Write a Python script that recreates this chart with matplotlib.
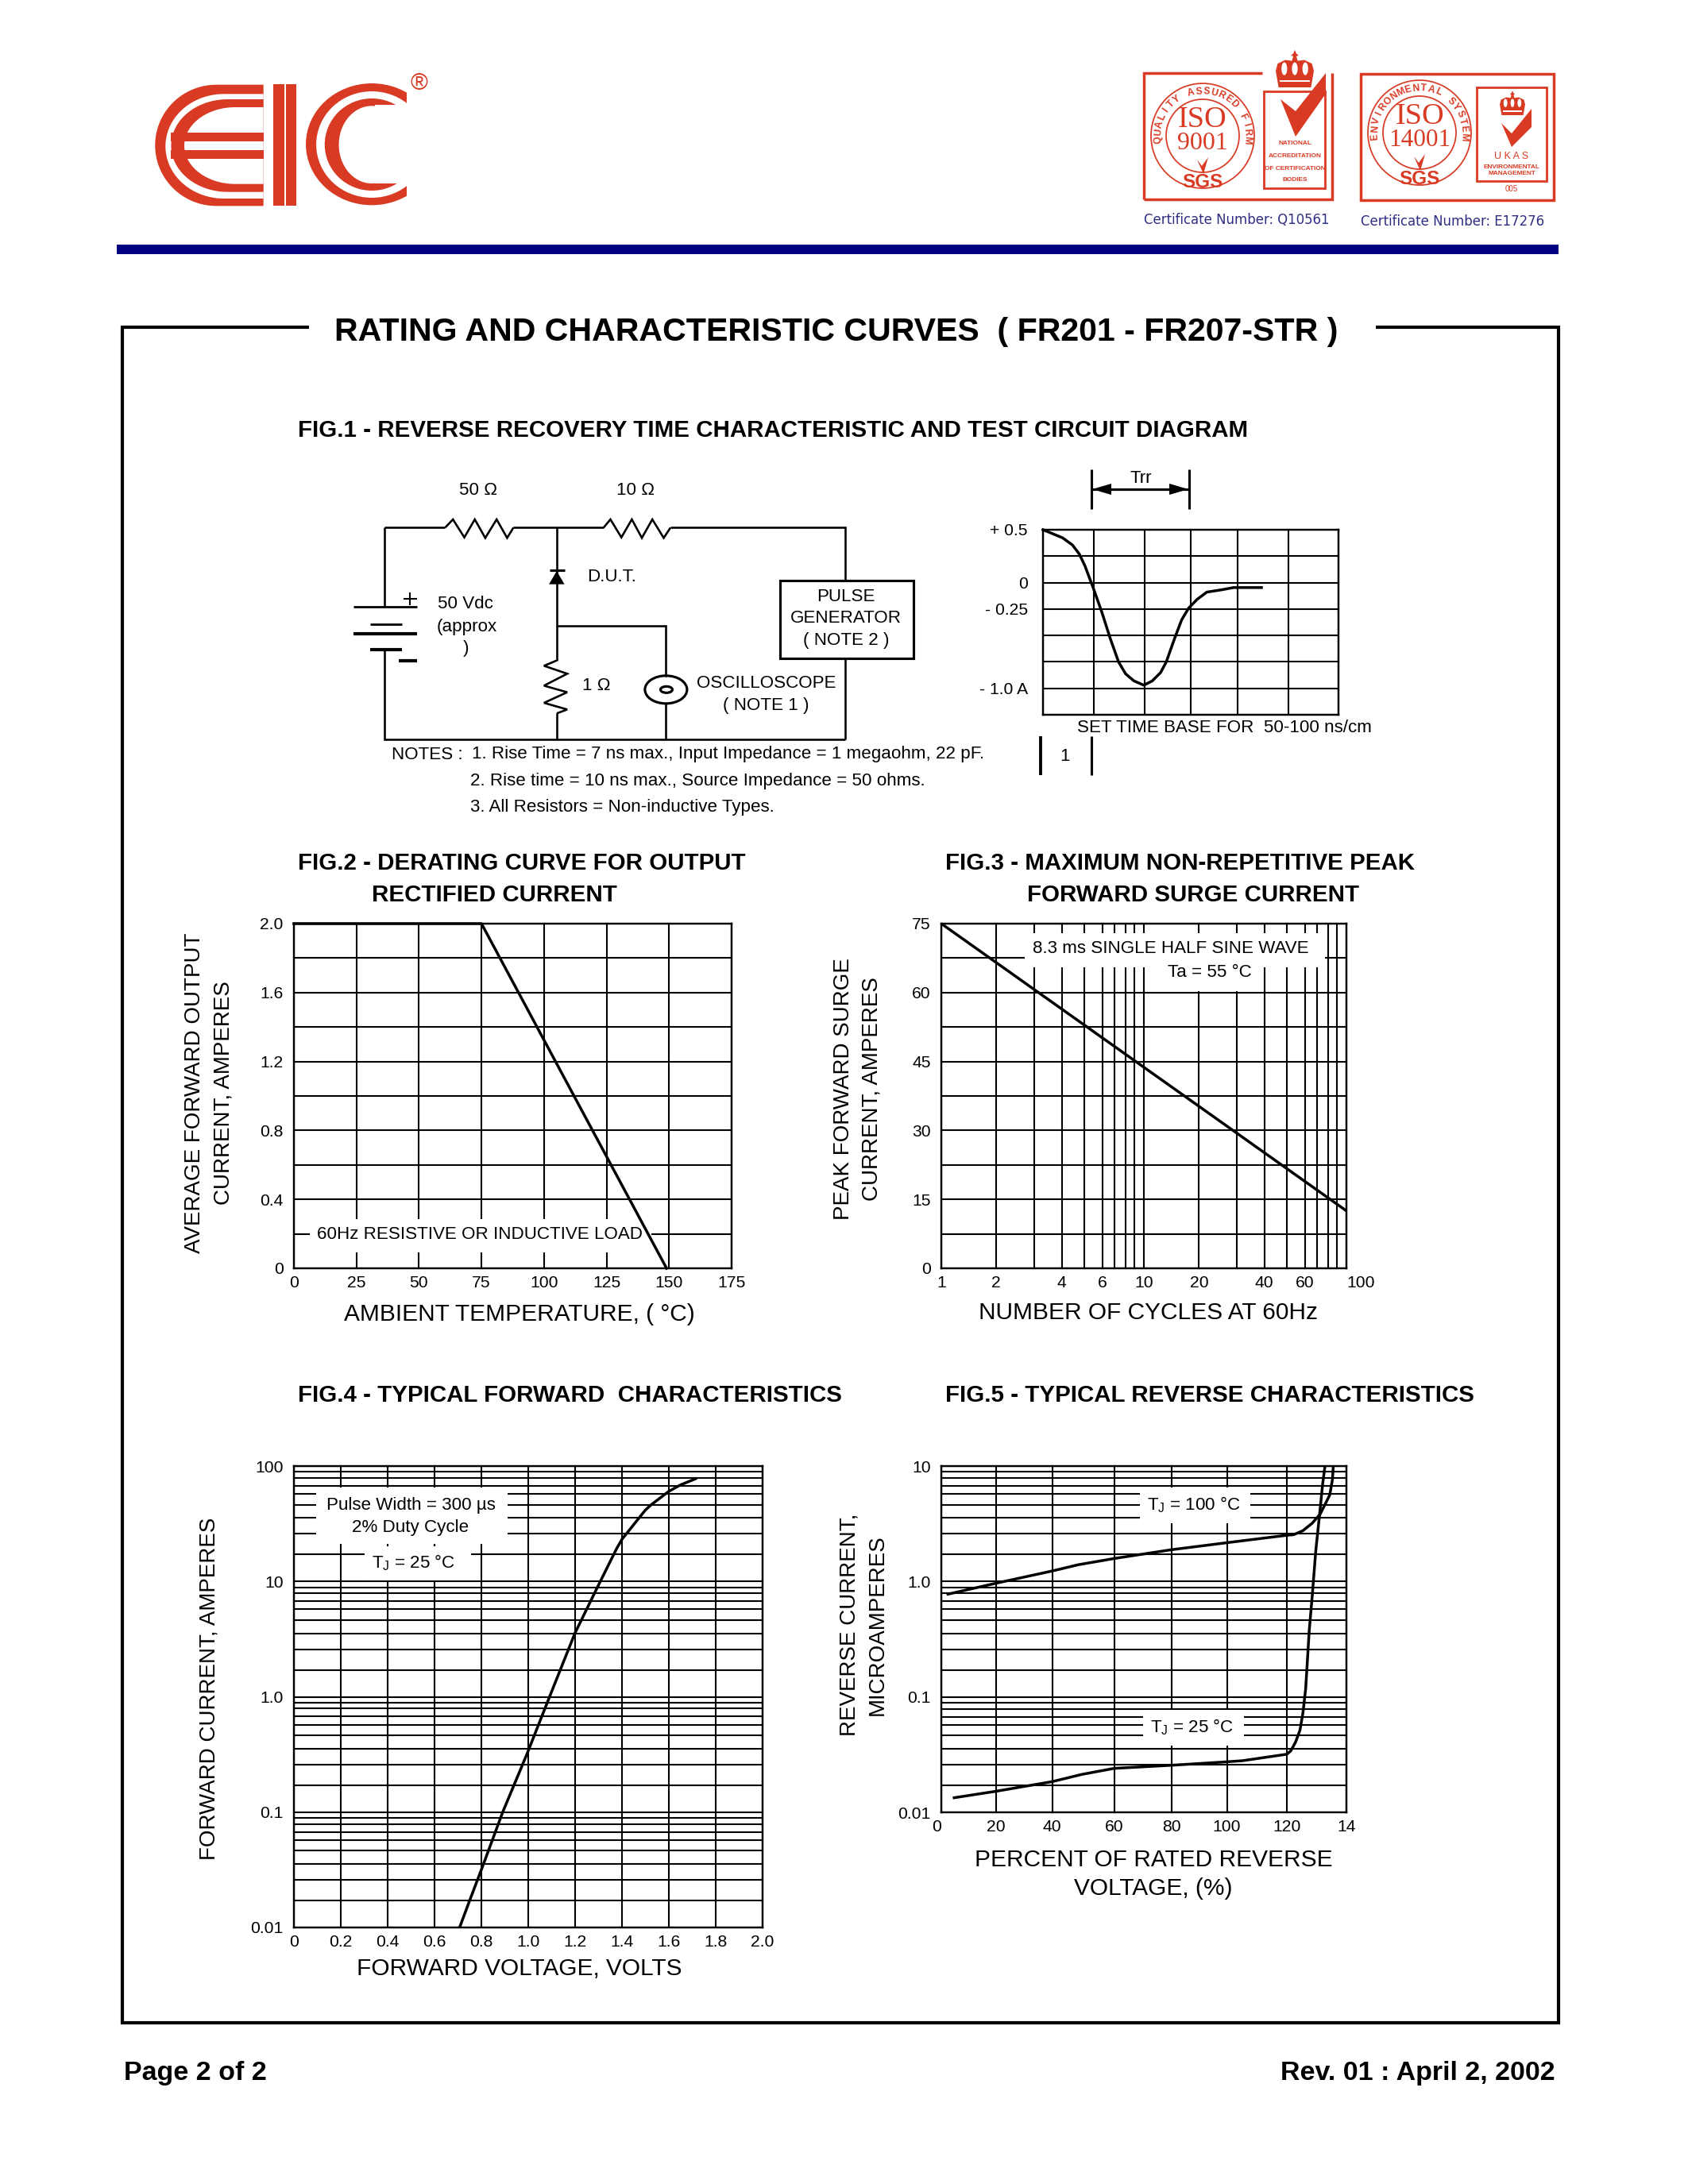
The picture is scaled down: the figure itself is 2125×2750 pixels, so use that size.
import matplotlib

matplotlib.use("Agg")
import matplotlib.pyplot as plt
import numpy as np
from matplotlib.lines import Line2D
from matplotlib.patches import Ellipse, Polygon, Rectangle
from matplotlib.transforms import Affine2D

W, H = 2125, 2750
RED = "#d93a24"
NAVY = "#000080"
CERT_BLUE = "#2e2e82"
FONT = "Liberation Sans"

plt.rcParams["font.family"] = [FONT, "DejaVu Sans"]
plt.rcParams["axes.linewidth"] = 0.7
plt.rcParams["mathtext.fontset"] = "custom"
plt.rcParams["mathtext.rm"] = FONT

# the log papers in the datasheet are hand drafted, their decades are not true log
LOG_MANTISSA = [1, 2, 3, 4, 5, 6, 7, 8, 9, 10]
LOG_FRAC_Y = [0, 0.234, 0.413, 0.55, 0.665, 0.759, 0.828, 0.897, 0.95, 1]
LOG_FRAC_X = [0, 0.272, 0.458, 0.595, 0.705, 0.796, 0.854, 0.908, 0.953, 1]

# fig 1 waveform
WAVE_DIVS = [0, 1, 2, 3, 4, 5, 6]
WAVE_DIV_FRAC = [0, 0.1725, 0.3431, 0.5005, 0.6588, 0.8294, 1]
WAVE_T = [0, 0.385, 0.577, 0.714, 0.824, 0.989, 1.156, 1.322, 1.489, 1.628, 1.794, 1.989,
          2.169, 2.349, 2.47, 2.651, 2.801, 2.952, 3.132, 3.341, 3.671, 3.91, 4.472]
WAVE_A = [0.5, 0.423, 0.356, 0.269, 0.157, -0.055, -0.279, -0.527, -0.751, -0.863, -0.93, -0.97,
          -0.93, -0.851, -0.751, -0.527, -0.353, -0.241, -0.159, -0.09, -0.067, -0.047, -0.047]
WAVE_Y_GRID = [0.5, 0.25, 0, -0.25, -0.5, -0.75, -1.0, -1.25]
WAVE_Y_TICKS = [0.5, 0, -0.25, -1.0]
WAVE_Y_LABELS = ["+ 0.5", "0", "- 0.25", "- 1.0 A"]

# fig 2 derating
DERATE_T = [0, 75, 149]
DERATE_I = [2.0, 2.0, 0]
DERATE_X_TICKS = [0, 25, 50, 75, 100, 125, 150, 175]
DERATE_Y_MAJOR = [0, 0.4, 0.8, 1.2, 1.6, 2.0]
DERATE_Y_LABELS = ["0", "0.4", "0.8", "1.2", "1.6", "2.0"]
DERATE_Y_MINOR = [0.2, 0.6, 1.0, 1.4, 1.8]

# fig 3 surge
SURGE_N = [1, 100]
SURGE_I = [75, 12.5]
SURGE_X_MAJOR = [1, 2, 4, 6, 10, 20, 40, 60, 100]
SURGE_X_LABELS = ["1", "2", "4", "6", "10", "20", "40", "60", "100"]
SURGE_X_MINOR = [3, 5, 7, 8, 9, 30, 50, 70, 80, 90]
SURGE_Y_MAJOR = [0, 15, 30, 45, 60, 75]
SURGE_Y_MINOR = [7.5, 22.5, 37.5, 52.5, 67.5]

# fig 4 forward
FWD_V = [0.707, 0.752, 0.804, 0.891, 0.995, 1.089, 1.199, 1.294, 1.377, 1.401, 1.5, 1.525, 1.599, 1.648, 1.714]
FWD_I = [0.01, 0.0206, 0.038, 0.1, 0.368, 0.98, 4.0, 8.9, 22.8, 27.5, 46, 50, 63, 71, 79]
FWD_X_TICKS = [0, 0.2, 0.4, 0.6, 0.8, 1.0, 1.2, 1.4, 1.6, 1.8, 2.0]
FWD_X_LABELS = ["0", "0.2", "0.4", "0.6", "0.8", "1.0", "1.2", "1.4", "1.6", "1.8", "2.0"]
FWD_Y_TICKS = [0.01, 0.1, 1, 10, 100]
FWD_Y_LABELS = ["0.01", "0.1", "1.0", "10", "100"]

# fig 5 reverse
REV_X_TICKS = [0, 20, 40, 60, 80, 100, 120, 140]
REV_X_FRAC = [0, 0.1352, 0.2741, 0.4265, 0.568, 0.705, 0.853, 1]
REV_X_LABELS = ["0", "20", "40", "60", "80", "100", "120", "14"]
REV_Y_TICKS = [0.01, 0.1, 1, 10]
REV_Y_LABELS = ["0.01", "0.1", "1.0", "10"]
REV_100_X = [2.4, 20, 40, 48.4, 60, 80, 100, 120, 122.3, 125.4, 128.5, 131.2, 134.4, 135.3, 135.6]
REV_100_I = [0.79, 0.97, 1.39, 1.62, 1.85, 2.23, 2.57, 2.93, 2.96, 3.2, 3.67, 4.3, 5.9, 7.8, 10]
REV_25_X = [4.7, 20, 32.3, 40, 49.6, 60, 80, 100, 105.2, 120, 121.3, 122.9, 124.4, 125.4,
            126.3, 126.8, 127.5, 128.5, 129.7, 131, 132, 132.8]
REV_25_I = [0.0154, 0.0178, 0.02, 0.0218, 0.0253, 0.0282, 0.0297, 0.0318, 0.0325, 0.0366, 0.0387, 0.045,
            0.055, 0.075, 0.129, 0.223, 0.42, 0.76, 2.17, 4.3, 7.2, 10]

# schematic, in crop units of the circuit area
WIRES = [
    ([147, 147], [583, 283]), ([147, 280], [283, 283]), ([430, 628], [283, 283]),
    ([775, 1158, 1158], [283, 283, 482]), ([525, 525], [283, 785]), ([525, 525], [985, 1083]),
    ([525, 765, 765], [653, 653, 845]), ([765, 765], [948, 1083]), ([1158, 1158], [778, 1083]),
    ([147, 147, 1158], [745, 1083, 1083]),
]
RESISTORS = [
    ([280, 297, 322, 345, 368, 393, 416, 430], [283, 252, 320, 252, 322, 252, 322, 283]),
    ([628, 643, 667, 690, 712, 735, 760, 775], [283, 252, 320, 252, 322, 252, 322, 283]),
    ([525, 497, 548, 497, 548, 497, 548, 525], [785, 805, 835, 880, 905, 945, 970, 985]),
]
BATTERY = [(78, 218, 583, 0.8), (116, 185, 647, 0.8), (78, 218, 683, 1.2), (116, 185, 745, 1.2), (178, 218, 785, 1.2)]

TEXT_SIZE = 6.45
TICK_SIZE = 6.1
X_TITLE_SIZE = 8.6
Y_TITLE_SIZE = 8.0
FIG_TITLE_SIZE = 8.5


def log_positions(decades, fracs, lo=0):
    vals, pos = [], []
    for d in range(decades):
        for m, f in zip(LOG_MANTISSA[:-1], fracs[:-1]):
            vals.append(m * 10.0 ** (lo + d))
            pos.append((d + f) / decades)
    vals.append(10.0 ** (lo + decades))
    pos.append(1.0)
    return vals, pos


def warped(values, fracs):
    return (lambda v: np.interp(v, values, fracs), lambda f: np.interp(f, fracs, values))


fig = plt.figure(figsize=(8.5, 11), dpi=250, facecolor="white")
PX = Affine2D().scale(1, -1).translate(0, H)


def page_text(x, y, s, size=TEXT_SIZE, ha="center", va="center", **kw):
    return fig.text(x, y, s, transform=PX, fontsize=size, ha=ha, va=va, **kw)


def page_line(xs, ys, lw=0.7, color="black"):
    fig.add_artist(Line2D(xs, ys, transform=PX, color=color, lw=lw, solid_capstyle="butt", solid_joinstyle="miter"))


def page_poly(pts, color=RED, zorder=1):
    fig.add_artist(Polygon(pts, closed=True, transform=PX, facecolor=color, edgecolor="none", zorder=zorder))


def page_rect(x0, y0, x1, y1, fill=None, edge=None, lw=0.7):
    fig.add_artist(Rectangle((x0, y0), x1 - x0, y1 - y0, transform=PX, facecolor=fill or "none",
                             edgecolor=edge or "none", lw=lw))


def page_ellipse(cx, cy, w, h, fill=None, edge=None, lw=0.7):
    fig.add_artist(Ellipse((cx, cy), w, h, transform=PX, facecolor=fill or "none", edgecolor=edge or "none", lw=lw))


def chart(left, top, right, bottom):
    ax = fig.add_axes([left / W, 1 - bottom / H, (right - left) / W, (bottom - top) / H])
    ax.set_axisbelow(True)
    ax.grid(True, which="both", color="black", lw=0.6)
    ax.tick_params(which="both", length=0, labelsize=TICK_SIZE)
    ax.tick_params(axis="x", pad=2.6)
    ax.tick_params(axis="y", pad=3.8)
    return ax


def mask(ax, x0, y0, x1, y1):
    ax.add_patch(Rectangle((x0, y0), x1 - x0, y1 - y0, transform=PX, facecolor="white", edgecolor="none", zorder=1.5))


def y_title(ax, text, x, y, size=Y_TITLE_SIZE):
    ax.set_ylabel(text, fontsize=size, va="center", ha="center", linespacing=1.5)
    ax.yaxis.set_label_coords(x, y, transform=PX)


def x_title(ax, text, x, y, size=X_TITLE_SIZE):
    ax.set_xlabel(text, fontsize=size, va="center", ha="center", linespacing=1.35)
    ax.xaxis.set_label_coords(x, y, transform=PX)


def draw_logo():
    def stadium(left, top, bottom, cx, right, color):
        a, b, cy = cx - left, (bottom - top) / 2, (top + bottom) / 2
        t = np.linspace(np.pi / 2, 3 * np.pi / 2, 60)
        pts = [(right, top)] + list(zip(cx + a * np.cos(t), cy - b * np.sin(t))) + [(right, bottom)]
        page_poly(pts, color)

    zx = lambda v: v / 0.843 + 130
    zy = lambda v: v / 3 + 50
    for left, top, bottom, cx, color in [(55, 170, 628, 120, RED), (66, 205, 600, 128, "white"),
                                         (72, 225, 575, 132, RED), (86, 255, 545, 140, "white")]:
        stadium(zx(left), zy(top), zy(bottom), zx(cx), zx(170), color)
    page_rect(zx(72), zy(350), zx(170), zy(385), fill=RED)
    page_rect(zx(72), zy(418), zx(170), zy(450), fill=RED)
    page_rect(zx(180), zy(168), zx(192), zy(628), fill=RED)
    page_rect(zx(194), zy(168), zx(205), zy(628), fill=RED)
    for left, top, bottom, color in [(215, 165, 625, RED), (226, 195, 597, "white"),
                                     (235, 222, 570, RED), (250, 250, 543, "white")]:
        cx = zx(285)
        a = cx - zx(left)
        page_ellipse(cx, (zy(top) + zy(bottom)) / 2, 2 * a, zy(bottom) - zy(top), fill=color)
    page_rect(zx(288), zy(245), zx(360), zy(543), fill="white")
    page_rect(zx(322), zy(150), zx(360), zy(640), fill="white")
    page_text(527, 105, "®", size=8.5, color=RED)


def arc_text(cx, cy, rx, ry, text, a0, a1, size=3.5):
    angles = np.linspace(a0, a1, len(text))
    for ch, a in zip(text, angles):
        r = np.radians(a)
        page_text(cx + rx * np.cos(r), cy - ry * np.sin(r), ch, size=size, color=RED, fontweight="bold",
                  rotation=a - 90)


def crown(cx, cy, sx, sy):
    pts = [(-0.85, 1), (-1, 0.1), (-0.9, -0.3), (-0.5, -0.5), (-0.15, -0.45), (-0.08, -0.7), (-0.2, -0.75),
           (-0.08, -0.85), (0, -1.05), (0.08, -0.85), (0.2, -0.75), (0.08, -0.7), (0.15, -0.45), (0.5, -0.5),
           (0.9, -0.3), (1, 0.1), (0.85, 1)]
    page_poly([(cx + sx * x, cy + sy * y) for x, y in pts])
    page_rect(cx - 0.78 * sx, cy + 0.62 * sy, cx + 0.78 * sx, cy + 0.7 * sy, fill="white")
    for dx in (-0.55, 0, 0.55):
        page_ellipse(cx + dx * sx, cy - 0.02 * sy, 0.3 * sx, 0.7 * sy, fill="white")


def draw_seal(cx, cy, ring_text, code, a0, a1, num_size):
    page_ellipse(cx, cy, 130, 132, edge=RED, lw=0.5)
    page_ellipse(cx, cy, 92, 92, edge=RED, lw=0.5)
    arc_text(cx, cy, 56, 56, ring_text, a0, a1)
    page_text(cx, cy - 20, "ISO", size=11, family="Liberation Serif", color=RED)
    page_text(cx, cy + 10, code, size=num_size, family="Liberation Serif", color=RED)
    page_poly([(cx - 7, cy + 30), (cx - 1, cy + 38), (cx + 7, cy + 27), (cx + 1, cy + 48)])
    page_text(cx, cy + 58, "SGS", size=7, color=RED, fontweight="bold")


def draw_certificates():
    # left mark
    page_line([1440, 1440, 1589], [251, 92, 92], lw=1.0, color=RED)
    page_line([1440, 1677, 1677], [251, 251, 92], lw=1.0, color=RED)
    page_rect(1591, 115, 1668, 237, edge=RED, lw=0.8)
    crown(1630, 87, 24, 23)
    page_poly([(1669, 92), (1669, 118), (1631, 172), (1612, 125), (1631, 140)])
    for y, line in [(180, "NATIONAL"), (196, "ACCREDITATION"), (212, "OF CERTIFICATION"), (226, "BODIES")]:
        page_text(1630, y, line, size=2.4, color=RED, fontweight="bold")
    draw_seal(1514, 171, "QUALITY ASSURED FIRM", "9001", 185, -5, 9.2)
    page_text(1440, 277, "Certificate Number: Q10561", size=5.3, ha="left", family="DejaVu Sans",
              stretch="condensed", color=CERT_BLUE)
    # right mark
    page_rect(1713, 93, 1956, 252, edge=RED, lw=1.0)
    page_rect(1859, 110, 1947, 228, edge=RED, lw=0.8)
    crown(1904, 130, 16, 15)
    page_poly([(1928, 137), (1928, 160), (1903, 185), (1890, 155), (1903, 168)])
    page_text(1903, 197, "U K A S", size=3.6, color=RED)
    page_text(1903, 210, "ENVIRONMENTAL", size=2.4, color=RED, fontweight="bold")
    page_text(1903, 219, "MANAGEMENT", size=2.4, color=RED, fontweight="bold")
    page_text(1903, 238, "005", size=2.8, color=RED)
    draw_seal(1787, 167, "ENVIRONMENTAL SYSTEM", "14001", 185, -5, 9)
    page_text(1713, 279, "Certificate Number: E17276", size=5.3, ha="left", family="DejaVu Sans",
              stretch="condensed", color=CERT_BLUE)


def draw_circuit():
    sx = lambda v: np.asarray(v) / 1.745 + 400
    sy = lambda v: np.asarray(v) / 3 + 570
    for xs, ys in WIRES:
        page_line(sx(xs), sy(ys), lw=0.75)
    for xs, ys in RESISTORS:
        page_line(sx(xs), sy(ys), lw=0.75)
    for x0, x1, y, lw in BATTERY:
        page_line(sx([x0, x1]), sy([y, y]), lw=lw)
    page_line(sx([203, 203]), sy([528, 576]), lw=0.6)
    page_line(sx([188, 218]), sy([552, 552]), lw=0.6)
    page_line(sx([510, 542]), sy([445, 445]), lw=0.9)
    page_poly([(sx(525), sy(447)), (sx(508), sy(497)), (sx(542), sy(497))], color="black")
    page_rect(sx(1015), sy(482), sx(1308), sy(778), fill="white", edge="black", lw=0.9)
    page_ellipse(sx(765), sy(895), 53, 35, fill="white", edge="black", lw=0.9)
    page_ellipse(sx(766), sy(895), 15, 8, edge="black", lw=0.9)
    for x, y, s in [(353, 142, "50 Ω"), (698, 142, "10 Ω"), (325, 570, "50 Vdc"), (327, 657, "(approx"), (325, 740, ")"),
                    (1160, 545, "PULSE"), (1160, 627, "GENERATOR"), (1160, 710, "( NOTE 2 )"), (612, 880, "1 Ω"),
                    (985, 872, "OSCILLOSCOPE"), (985, 955, "( NOTE 1 )")]:
        page_text(sx(x), sy(y), s)
    page_text(sx(592), sy(468), "D.U.T.", ha="left")
    page_text(sx(162), sy(1140), "NOTES :", ha="left")
    page_text(sx(338), sy(1140), "1. Rise Time = 7 ns max., Input Impedance = 1 megaohm, 22 pF.", ha="left")
    page_text(sx(335), sy(1240), "2. Rise time = 10 ns max., Source Impedance = 50 ohms.", ha="left")
    page_text(sx(335), sy(1340), "3. All Resistors = Non-inductive Types.", ha="left")


def draw_wave():
    ax = chart(1313, 667, 1685, 900)
    ax.set_xscale("function", functions=warped(WAVE_DIVS, WAVE_DIV_FRAC))
    ax.set_xlim(0, 6)
    ax.set_ylim(-1.25, 0.5)
    ax.set_xticks(WAVE_DIVS)
    ax.set_xticklabels([])
    ax.set_yticks(WAVE_Y_TICKS)
    ax.set_yticklabels(WAVE_Y_LABELS)
    ax.set_yticks([v for v in WAVE_Y_GRID if v not in WAVE_Y_TICKS], minor=True)
    ax.tick_params(axis="y", pad=5.5)
    ax.plot(WAVE_T, WAVE_A, color="black", lw=1.0, zorder=3, clip_on=False)
    # Trr marker
    page_line([1374, 1374], [591, 641], lw=0.9)
    page_line([1497, 1497], [591, 641], lw=0.9)
    page_line([1374, 1497], [616, 616], lw=0.9)
    page_poly([(1375, 616), (1399, 609), (1399, 623)], color="black")
    page_poly([(1496, 616), (1472, 609), (1472, 623)], color="black")
    page_text(1436, 603, "Trr")
    page_text(1356, 916, "SET TIME BASE FOR  50-100 ns/cm", ha="left")
    page_line([1310, 1310], [927, 976], lw=1.1)
    page_line([1374, 1374], [927, 976], lw=0.9)
    page_text(1341, 953, "1")


def draw_fig2():
    ax = chart(370, 1163, 921, 1597)
    ax.set_xlim(0, 175)
    ax.set_ylim(0, 2)
    ax.set_xticks(DERATE_X_TICKS)
    ax.set_yticks(DERATE_Y_MAJOR)
    ax.set_yticklabels(DERATE_Y_LABELS)
    ax.set_yticks(DERATE_Y_MINOR, minor=True)
    mask(ax, 390, 1535, 820, 1577)
    ax.plot(DERATE_T, DERATE_I, color="black", lw=1.0, zorder=3, clip_on=False)
    page_text(604, 1555, "60Hz RESISTIVE OR INDUCTIVE LOAD")
    y_title(ax, "AVERAGE FORWARD OUTPUT\nCURRENT, AMPERES", 263, 1376)
    x_title(ax, "AMBIENT TEMPERATURE, ( °C)", 654, 1655)


def draw_fig3():
    ax = chart(1185, 1163, 1695, 1597)
    vals, pos = log_positions(2, LOG_FRAC_X)
    ax.set_xscale("function", functions=warped(vals, pos))
    ax.set_xlim(1, 100)
    ax.set_ylim(0, 75)
    ax.set_xticks(SURGE_X_MAJOR)
    labels = ax.set_xticklabels(SURGE_X_LABELS)
    labels[-1].set_ha("left")
    ax.set_xticks(SURGE_X_MINOR, minor=True)
    ax.set_yticks(SURGE_Y_MAJOR)
    ax.set_yticks(SURGE_Y_MINOR, minor=True)
    mask(ax, 1290, 1175, 1668, 1218)
    mask(ax, 1463, 1218, 1581, 1248)
    ax.plot(SURGE_N, SURGE_I, color="black", lw=1.0, zorder=3)
    page_text(1474, 1195, "8.3 ms SINGLE HALF SINE WAVE")
    page_text(1523, 1225, "Ta = 55 °C")
    y_title(ax, "PEAK FORWARD SURGE\nCURRENT, AMPERES", 1080, 1371)
    x_title(ax, "NUMBER OF CYCLES AT 60Hz", 1445, 1653)


def draw_fig4():
    ax = chart(370, 1846, 960, 2427)
    vals, pos = log_positions(4, LOG_FRAC_Y, lo=-2)
    ax.set_yscale("function", functions=warped(vals, pos))
    ax.set_xlim(0, 2)
    ax.set_ylim(0.01, 100)
    ax.set_xticks(FWD_X_TICKS)
    ax.set_xticklabels(FWD_X_LABELS)
    ax.set_yticks(FWD_Y_TICKS)
    ax.set_yticklabels(FWD_Y_LABELS)
    ax.set_yticks([v for v in vals if v not in FWD_Y_TICKS], minor=True)
    mask(ax, 398, 1873, 639, 1944)
    mask(ax, 459, 1947, 593, 1990)
    ax.plot(FWD_V, FWD_I, color="black", lw=1.0, zorder=3)
    page_text(517, 1895, "Pulse Width = 300 µs")
    page_text(517, 1923, "2% Duty Cycle")
    page_text(521, 1968, "T$_{\\mathrm{J}}$ = 25 °C", math_fontfamily="custom")
    y_title(ax, "FORWARD CURRENT, AMPERES", 263, 2126)
    x_title(ax, "FORWARD VOLTAGE, VOLTS", 654, 2479)


def draw_fig5():
    ax = chart(1185, 1846, 1695, 2282)
    vals, pos = log_positions(3, LOG_FRAC_Y, lo=-2)
    ax.set_yscale("function", functions=warped(vals, pos))
    ax.set_xscale("function", functions=warped(REV_X_TICKS, REV_X_FRAC))
    ax.set_xlim(0, 140)
    ax.set_ylim(0.01, 10)
    ax.set_xticks(REV_X_TICKS)
    labels = ax.set_xticklabels(REV_X_LABELS)
    labels[0].set_ha("right")
    ax.set_yticks(REV_Y_TICKS)
    ax.set_yticklabels(REV_Y_LABELS)
    ax.set_yticks([v for v in vals if v not in REV_Y_TICKS], minor=True)
    mask(ax, 1435, 1873, 1574, 1918)
    mask(ax, 1439, 2153, 1566, 2198)
    ax.plot(REV_100_X, REV_100_I, color="black", lw=1.0, zorder=3)
    ax.plot(REV_25_X, REV_25_I, color="black", lw=1.0, zorder=3)
    page_text(1503, 1895, "T$_{\\mathrm{J}}$ = 100 °C", math_fontfamily="custom")
    page_text(1501, 2175, "T$_{\\mathrm{J}}$ = 25 °C", math_fontfamily="custom")
    y_title(ax, "REVERSE CURRENT,\nMICROAMPERES", 1087, 2046)
    x_title(ax, "PERCENT OF RATED REVERSE\nVOLTAGE, (%)", 1452, 2360)


draw_logo()
draw_certificates()
fig.add_artist(Rectangle((147, 308), 1815, 12, transform=PX, facecolor=NAVY, edgecolor="none"))

# page frame, gap in the top edge holds the heading
page_line([389, 154, 154, 1962, 1962, 1732], [412, 412, 2547, 2547, 412, 412], lw=1.2)
page_text(1053, 418, "RATING AND CHARACTERISTIC CURVES  ( FR201 - FR207-STR )", size=11.85, fontweight="bold")

page_text(375, 542, "FIG.1 - REVERSE RECOVERY TIME CHARACTERISTIC AND TEST CIRCUIT DIAGRAM", size=FIG_TITLE_SIZE, ha="left", fontweight="bold")
page_text(375, 1087, "FIG.2 - DERATING CURVE FOR OUTPUT", size=FIG_TITLE_SIZE, ha="left", fontweight="bold")
page_text(622, 1127, "RECTIFIED CURRENT", size=FIG_TITLE_SIZE, fontweight="bold")
page_text(1190, 1087, "FIG.3 - MAXIMUM NON-REPETITIVE PEAK", size=FIG_TITLE_SIZE, ha="left", fontweight="bold")
page_text(1502, 1127, "FORWARD SURGE CURRENT", size=FIG_TITLE_SIZE, fontweight="bold")
page_text(375, 1757, "FIG.4 - TYPICAL FORWARD  CHARACTERISTICS", size=FIG_TITLE_SIZE, ha="left", fontweight="bold")
page_text(1190, 1757, "FIG.5 - TYPICAL REVERSE CHARACTERISTICS", size=FIG_TITLE_SIZE, ha="left", fontweight="bold")

draw_circuit()
draw_wave()
draw_fig2()
draw_fig3()
draw_fig4()
draw_fig5()

page_text(156, 2610, "Page 2 of 2", size=9.8, ha="left", fontweight="bold")
page_text(1958, 2610, "Rev. 01 : April 2, 2002", size=9.8, ha="right", fontweight="bold")

fig.savefig("out.png", dpi=250, facecolor="white")
